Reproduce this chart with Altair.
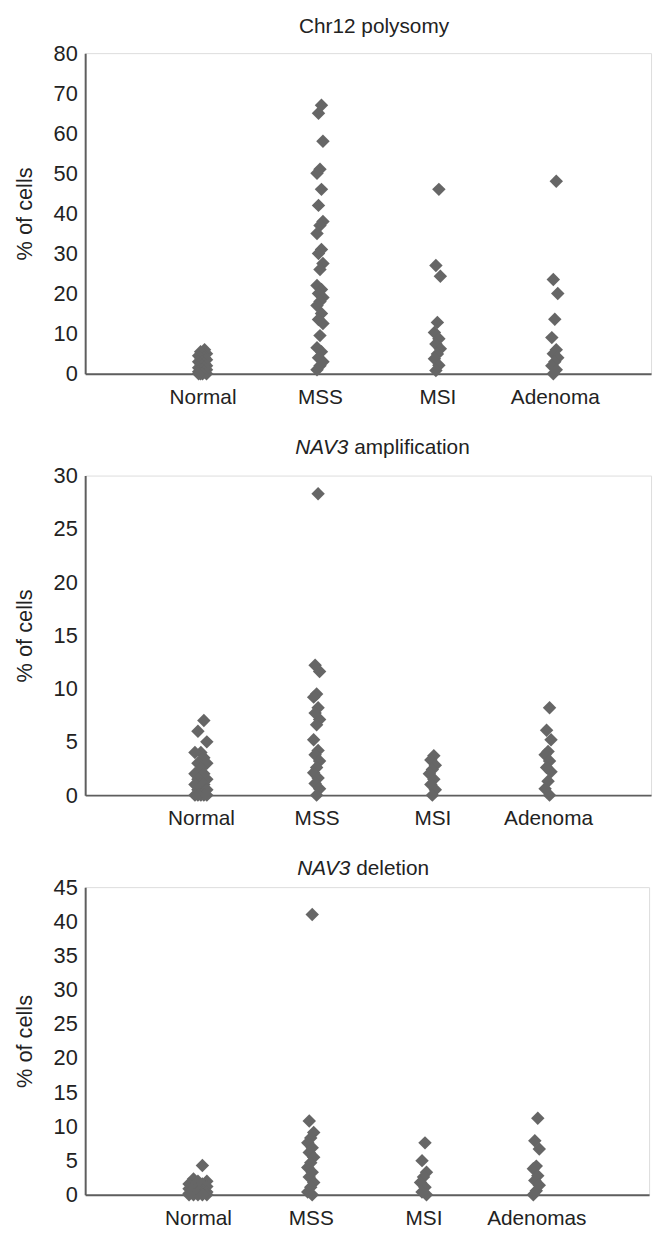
import altair as alt
import pandas as pd

FONT = "Liberation Sans, Arial, Helvetica, sans-serif"
TEXT_COLOR = "#222222"
POINT_COLOR = "#666666"
AXIS_COLOR = "#5e5e5e"

CATS_A = ["Normal", "MSS", "MSI", "Adenoma"]
CATS_C = ["Normal", "MSS", "MSI", "Adenomas"]

# Panel 1: Chr12 polysomy (% of cells)
chr12_normal = [6, 5.5, 5, 5, 4.5, 4, 4, 3.5, 3, 3, 2.5, 2.5, 2, 2, 1.5, 1.5, 1, 1, 1,
                0.5, 0.5, 0, 0, 0, 0]
chr12_mss = [67, 65, 58, 51, 50, 46, 42, 38, 37, 35, 31, 30, 27.5, 26, 22, 21, 20,
             19, 18, 17, 15, 13.5, 12.5, 9.5, 6.5, 5.5, 4, 3, 2, 1]
chr12_msi = [46, 27, 24.3, 12.8, 10.3, 8.7, 7.4, 6.2, 4.9, 3.7, 2.1, 0.8]
chr12_adenoma = [48, 23.5, 20, 13.6, 9, 6, 5, 4, 3, 2, 1, 0]

# Panel 2: NAV3 amplification (% of cells)
amp_normal = [7, 6, 5, 4, 4, 3.5, 3, 3, 2.5, 2, 2, 1.5, 1.5, 1, 1, 1, 0.5, 0.5,
              0, 0, 0, 0, 0]
amp_mss = [28.3, 12.2, 11.6, 9.5, 9.2, 8.2, 7.7, 7.1, 6.6, 5.2, 4.2, 3.8, 3.2, 2.6,
           2.1, 1.6, 1.1, 0.6, 0]
amp_msi = [3.7, 3.3, 2.8, 2.4, 2.0, 1.5, 1.0, 0.5, 0]
amp_adenoma = [8.2, 6.1, 5.2, 4.1, 3.8, 3.2, 2.6, 2.2, 1.3, 0.6, 0]

# Panel 3: NAV3 deletion (% of cells)
del_normal = [4.3, 2.3, 2, 2, 1.6, 1.6, 1.2, 1.2, 0.9, 0.9, 0.6, 0.6, 0.4, 0.4,
              0.2, 0.2, 0, 0, 0, 0, 0]
del_mss = [41, 10.8, 9.1, 8.3, 7.6, 6.9, 6.2, 5.5, 4.7, 4.0, 3.3, 2.6, 1.8, 1.1, 0.4, 0]
del_msi = [7.6, 5, 3.3, 2.6, 1.8, 1.1, 0.4, 0]
del_adenomas = [11.2, 7.9, 6.7, 4.2, 3.8, 2.8, 2.1, 1.4, 0.6, 0]


def make_df(groups):
    rows = []
    for k, vals in enumerate(groups, start=1):
        for v in vals:
            rows.append({"k": k, "v": v})
    return pd.DataFrame(rows)


def title_layer(text, px, py, italic=False, align="center"):
    return alt.Chart(pd.DataFrame({"t": [text]})).mark_text(
        font=FONT, fontSize=21, fontStyle="italic" if italic else "normal",
        align=align, baseline="middle", color=TEXT_COLOR
    ).encode(text="t:N", x=alt.value(px), y=alt.value(py))


def panel(groups, cats, ymax, ystep, width, height, xmax, normal_jit, titles):
    df = make_df(groups)
    px_per_unit = width / xmax
    label_expr = "[''," + ",".join("'" + c + "'" for c in cats) + "][datum.value]"
    points = alt.Chart(df).transform_window(
        rn="row_number()", groupby=["k"]
    ).transform_calculate(
        xpos=(f"datum.k + ((((datum.rn * 3) % 5) - 2) / 2) * "
              f"(datum.k == 1 ? {normal_jit} : 3) / {px_per_unit}")
    ).mark_point(
        shape="diamond", filled=True, size=185, color=POINT_COLOR, opacity=1
    ).encode(
        x=alt.X("xpos:Q",
                scale=alt.Scale(domain=[0, xmax], nice=False, zero=True),
                axis=alt.Axis(values=[1, 2, 3, 4], labelExpr=label_expr, title=None,
                              ticks=False, grid=False, labelFlush=False,
                              labelPadding=13, labelFontSize=21, labelFont=FONT,
                              labelColor=TEXT_COLOR, domainColor=AXIS_COLOR,
                              domainWidth=2)),
        y=alt.Y("v:Q",
                scale=alt.Scale(domain=[0, ymax], nice=False),
                axis=alt.Axis(values=list(range(0, ymax + 1, ystep)), title="% of cells",
                              ticks=False, grid=False, labelPadding=8,
                              labelFontSize=22, labelFont=FONT, labelColor=TEXT_COLOR,
                              titleFontSize=22, titleFont=FONT, titleFontWeight="normal",
                              titleColor=TEXT_COLOR, titlePadding=17,
                              domainColor=AXIS_COLOR, domainWidth=2)),
    )
    return alt.layer(points, *titles).properties(width=width, height=height)


p1 = panel([chr12_normal, chr12_mss, chr12_msi, chr12_adenoma], CATS_A, 80, 10,
           572, 324, 4.82, 4,
           [title_layer("Chr12 polysomy", 292, -26)])
p2 = panel([amp_normal, amp_mss, amp_msi, amp_adenoma], CATS_A, 30, 5,
           572, 323, 4.89, 6,
           [title_layer("NAV3", 266, -28, italic=True, align="right"),
            title_layer("amplification", 272, -28, align="left")])
p3 = panel([del_normal, del_mss, del_msi, del_adenomas], CATS_C, 45, 5,
           570, 311, 5.0, 9,
           [title_layer("NAV3", 268, -18, italic=True, align="right"),
            title_layer("deletion", 274, -18, align="left")])

chart = alt.vconcat(p1, p2, p3, spacing=28).properties(
    padding={"left": 5, "top": 1, "right": 5, "bottom": 0}
).configure_view(stroke=None).configure(background="white")

chart.save("out.html", embed_options={"renderer": "svg", "actions": False})
